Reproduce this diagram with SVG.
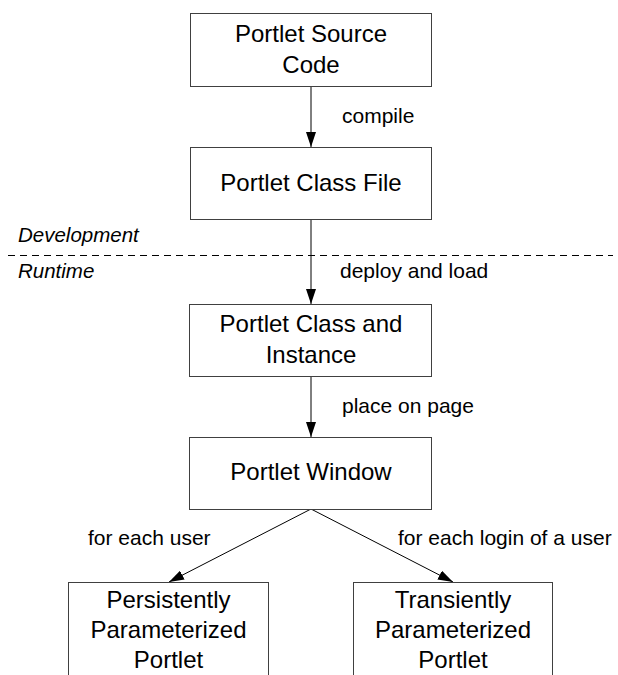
<svg xmlns="http://www.w3.org/2000/svg" width="618" height="675" viewBox="0 0 618 675">
<style>
.box{fill:#fff;stroke:#404040;stroke-width:1}
.bt{font-family:"Liberation Sans",Arial,sans-serif;font-size:24px;fill:#000;text-anchor:middle}
.lbl{font-family:"Liberation Sans",Arial,sans-serif;font-size:21px;fill:#000}
.it{font-style:italic;font-size:20.5px}
.con{stroke:#000;stroke-width:1;fill:none}
</style>
<defs>
<marker id="ah" viewBox="0 0 15 10" markerWidth="15" markerHeight="10" refX="15" refY="5" orient="auto" markerUnits="userSpaceOnUse">
<path d="M0,0 L15,5 L0,10 z" fill="#000"/>
</marker>
</defs>
<rect width="618" height="675" fill="#fff"/>
<g id="phase-divider">
<line x1="8" y1="255.5" x2="613" y2="255.5" stroke="#000" stroke-width="1" stroke-dasharray="7,5"/>
<text class="lbl it" x="18" y="242">Development</text>
<text class="lbl it" x="18" y="278">Runtime</text>
</g>
<g id="connectors">
<line class="con" x1="311" y1="86" x2="311" y2="147" marker-end="url(#ah)"/>
<line class="con" x1="311" y1="219" x2="311" y2="304" marker-end="url(#ah)"/>
<line class="con" x1="311" y1="376" x2="311" y2="437" marker-end="url(#ah)"/>
<line class="con" x1="311" y1="509" x2="169" y2="582" marker-end="url(#ah)"/>
<line class="con" x1="311" y1="509" x2="453" y2="582" marker-end="url(#ah)"/>
<text class="lbl" x="342" y="123">compile</text>
<text class="lbl" x="340" y="278">deploy and load</text>
<text class="lbl" x="342" y="413">place on page</text>
<text class="lbl" x="88" y="545">for each user</text>
<text class="lbl" x="398" y="545">for each login of a user</text>
</g>
<g id="source-code">
<rect class="box" x="190.5" y="13.5" width="241" height="73"/>
<text class="bt" x="311" y="42">Portlet Source</text>
<text class="bt" x="311" y="73">Code</text>
</g>
<g id="class-file">
<rect class="box" x="190.5" y="147.5" width="241" height="72"/>
<text class="bt" x="311" y="191">Portlet Class File</text>
</g>
<g id="class-instance">
<rect class="box" x="189.5" y="304.5" width="242" height="72"/>
<text class="bt" x="311" y="332">Portlet Class and</text>
<text class="bt" x="311" y="363">Instance</text>
</g>
<g id="portlet-window">
<rect class="box" x="189.5" y="437.5" width="242" height="72"/>
<text class="bt" x="311" y="480">Portlet Window</text>
</g>
<g id="persistent">
<rect class="box" x="68.5" y="582.5" width="200" height="110"/>
<text class="bt" x="168.5" y="608">Persistently</text>
<text class="bt" x="168.5" y="638">Parameterized</text>
<text class="bt" x="168.5" y="668">Portlet</text>
</g>
<g id="transient">
<rect class="box" x="353.5" y="582.5" width="199" height="110"/>
<text class="bt" x="453" y="608">Transiently</text>
<text class="bt" x="453" y="638">Parameterized</text>
<text class="bt" x="453" y="668">Portlet</text>
</g>
</svg>
